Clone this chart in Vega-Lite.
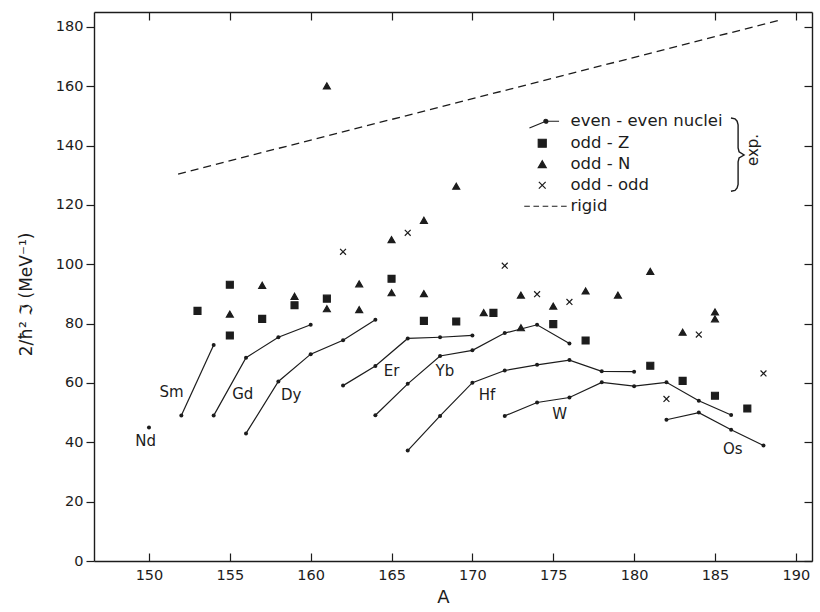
{
  "$schema": "https://vega.github.io/schema/vega-lite/v6.json",
  "width": 718,
  "height": 549,
  "autosize": {"type": "none"},
  "padding": {"left": 94, "top": 12, "right": 8, "bottom": 51},
  "background": "white",
  "config": {
    "view": {"stroke": null},
    "font": "DejaVu Sans",
    "axis": {"grid": false, "domainColor": "#1c1c1c", "tickColor": "#1c1c1c", "labelColor": "#1c1c1c", "titleColor": "#1c1c1c", "domainWidth": 1.4, "tickWidth": 1.2, "labelFont": "DejaVu Sans", "titleFont": "DejaVu Sans", "titleFontWeight": "normal"}
  },
  "datasets": {
    "ee": [
      {"el": "Nd", "A": 150, "J": 45},
      {"el": "Sm", "A": 152, "J": 49}, {"el": "Sm", "A": 154, "J": 72.8},
      {"el": "Gd", "A": 154, "J": 49}, {"el": "Gd", "A": 156, "J": 68.5}, {"el": "Gd", "A": 158, "J": 75.4}, {"el": "Gd", "A": 160, "J": 79.6},
      {"el": "Dy", "A": 156, "J": 43}, {"el": "Dy", "A": 158, "J": 60.5}, {"el": "Dy", "A": 160, "J": 69.7}, {"el": "Dy", "A": 162, "J": 74.4}, {"el": "Dy", "A": 164, "J": 81.3},
      {"el": "Er", "A": 162, "J": 59.1}, {"el": "Er", "A": 164, "J": 65.7}, {"el": "Er", "A": 166, "J": 75}, {"el": "Er", "A": 168, "J": 75.4}, {"el": "Er", "A": 170, "J": 76},
      {"el": "Yb", "A": 164, "J": 49.1}, {"el": "Yb", "A": 166, "J": 59.7}, {"el": "Yb", "A": 168, "J": 69.1}, {"el": "Yb", "A": 170, "J": 71}, {"el": "Yb", "A": 172, "J": 76.8}, {"el": "Yb", "A": 174, "J": 79.6}, {"el": "Yb", "A": 176, "J": 73.3},
      {"el": "Hf", "A": 166, "J": 37.2}, {"el": "Hf", "A": 168, "J": 48.9}, {"el": "Hf", "A": 170, "J": 60.1}, {"el": "Hf", "A": 172, "J": 64.2}, {"el": "Hf", "A": 174, "J": 66.1}, {"el": "Hf", "A": 176, "J": 67.7}, {"el": "Hf", "A": 178, "J": 63.9}, {"el": "Hf", "A": 180, "J": 63.8},
      {"el": "W", "A": 172, "J": 48.9}, {"el": "W", "A": 174, "J": 53.4}, {"el": "W", "A": 176, "J": 55.1}, {"el": "W", "A": 178, "J": 60.2}, {"el": "W", "A": 180, "J": 58.9}, {"el": "W", "A": 182, "J": 60.2}, {"el": "W", "A": 184, "J": 54}, {"el": "W", "A": 186, "J": 49.2},
      {"el": "Os", "A": 182, "J": 47.6}, {"el": "Os", "A": 184, "J": 50}, {"el": "Os", "A": 186, "J": 44.2}, {"el": "Os", "A": 188, "J": 38.9}
    ],
    "odd": [
      {"kind": "odd - Z", "A": 153, "J": 84.3}, {"kind": "odd - Z", "A": 155, "J": 93.1}, {"kind": "odd - Z", "A": 155, "J": 76}, {"kind": "odd - Z", "A": 157, "J": 81.6}, {"kind": "odd - Z", "A": 159, "J": 86.2}, {"kind": "odd - Z", "A": 161, "J": 88.4}, {"kind": "odd - Z", "A": 165, "J": 95.1}, {"kind": "odd - Z", "A": 167, "J": 80.9}, {"kind": "odd - Z", "A": 169, "J": 80.7}, {"kind": "odd - Z", "A": 171.3, "J": 83.6}, {"kind": "odd - Z", "A": 175, "J": 79.8}, {"kind": "odd - Z", "A": 177, "J": 74.3}, {"kind": "odd - Z", "A": 181, "J": 65.8}, {"kind": "odd - Z", "A": 183, "J": 60.7}, {"kind": "odd - Z", "A": 185, "J": 55.7}, {"kind": "odd - Z", "A": 187, "J": 51.4},
      {"kind": "odd - N", "A": 155, "J": 83.2}, {"kind": "odd - N", "A": 157, "J": 92.9}, {"kind": "odd - N", "A": 159, "J": 89.2}, {"kind": "odd - N", "A": 161, "J": 85}, {"kind": "odd - N", "A": 161, "J": 160.1}, {"kind": "odd - N", "A": 163, "J": 93.4}, {"kind": "odd - N", "A": 163, "J": 84.7}, {"kind": "odd - N", "A": 165, "J": 90.4}, {"kind": "odd - N", "A": 165, "J": 108.3}, {"kind": "odd - N", "A": 167, "J": 114.8}, {"kind": "odd - N", "A": 167, "J": 90.1}, {"kind": "odd - N", "A": 169, "J": 126.3}, {"kind": "odd - N", "A": 170.7, "J": 83.7}, {"kind": "odd - N", "A": 173, "J": 89.6}, {"kind": "odd - N", "A": 173, "J": 78.6}, {"kind": "odd - N", "A": 175, "J": 85.9}, {"kind": "odd - N", "A": 177, "J": 91}, {"kind": "odd - N", "A": 179, "J": 89.6}, {"kind": "odd - N", "A": 181, "J": 97.6}, {"kind": "odd - N", "A": 183, "J": 77.1}, {"kind": "odd - N", "A": 185, "J": 83.9}, {"kind": "odd - N", "A": 185, "J": 81.6},
      {"kind": "odd - odd", "A": 162, "J": 104.2}, {"kind": "odd - odd", "A": 166, "J": 110.6}, {"kind": "odd - odd", "A": 172, "J": 99.5}, {"kind": "odd - odd", "A": 174, "J": 89.9}, {"kind": "odd - odd", "A": 176, "J": 87.3}, {"kind": "odd - odd", "A": 182, "J": 54.6}, {"kind": "odd - odd", "A": 184, "J": 76.3}, {"kind": "odd - odd", "A": 188, "J": 63.2}
    ],
    "rigid": [
      {"A": 151.8, "J": 130.4}, {"A": 189.1, "J": 182.4}
    ],
    "labels": [
      {"el": "Nd", "A": 149.8, "J": 40.6}, {"el": "Sm", "A": 151.4, "J": 57}, {"el": "Gd", "A": 155.8, "J": 56.4}, {"el": "Dy", "A": 158.8, "J": 56}, {"el": "Er", "A": 165, "J": 64.1}, {"el": "Yb", "A": 168.3, "J": 63.9}, {"el": "Hf", "A": 170.9, "J": 55.8}, {"el": "W", "A": 175.4, "J": 49.5}, {"el": "Os", "A": 186.1, "J": 37.7}
    ],
    "brace": [
      {"i": 1, "A": 185.99, "J": 149.3}, {"i": 2, "A": 186.24, "J": 149.0}, {"i": 3, "A": 186.37, "J": 148.2}, {"i": 4, "A": 186.43, "J": 147.0},
      {"i": 5, "A": 186.43, "J": 139.2}, {"i": 6, "A": 186.49, "J": 137.9}, {"i": 7, "A": 186.8, "J": 136.8}, {"i": 8, "A": 186.49, "J": 135.8},
      {"i": 9, "A": 186.43, "J": 134.5}, {"i": 10, "A": 186.43, "J": 126.9}, {"i": 11, "A": 186.37, "J": 125.7}, {"i": 12, "A": 186.24, "J": 124.9}, {"i": 13, "A": 185.99, "J": 124.6}
    ]
  },
  "resolve": {"axis": {"x": "independent", "y": "independent"}},
  "layer": [
    {
      "data": {"name": "rigid"},
      "mark": {"type": "line", "color": "#1c1c1c", "strokeWidth": 1.3, "strokeDash": [8, 5]},
      "encoding": {
        "x": {"field": "A", "type": "quantitative", "scale": {"domain": [146.6, 191], "nice": false, "zero": false},
          "axis": {"orient": "bottom", "values": [150, 155, 160, 165, 170, 175, 180, 185, 190], "tickSize": -8, "labelPadding": 15, "labelFontSize": 14.5, "title": "A", "titleFontSize": 18, "titleX": 349, "titleY": 36, "titleBaseline": "middle", "titleAlign": "center"}},
        "y": {"field": "J", "type": "quantitative", "scale": {"domain": [0, 185], "nice": false, "zero": false},
          "axis": {"orient": "left", "values": [0, 20, 40, 60, 80, 100, 120, 140, 160, 180], "tickSize": 8, "labelPadding": 3, "labelFontSize": 14.5, "title": "2/ħ² ℑ (MeV⁻¹)", "titleFontSize": 17, "titleX": -68, "titleY": 282, "titleAngle": 270, "titleAlign": "center", "titleBaseline": "middle"}}
      }
    },
    {
      "data": {"name": "ee"},
      "mark": {"type": "line", "color": "#1c1c1c", "strokeWidth": 1.2},
      "encoding": {
        "x": {"field": "A", "type": "quantitative", "scale": {"domain": [146.6, 191], "nice": false, "zero": false},
          "axis": {"orient": "top", "values": [150, 155, 160, 165, 170, 175, 180, 185, 190], "tickSize": -8, "labels": false, "title": null}},
        "y": {"field": "J", "type": "quantitative", "scale": {"domain": [0, 185], "nice": false, "zero": false},
          "axis": {"orient": "right", "values": [0, 20, 40, 60, 80, 100, 120, 140, 160, 180], "tickSize": -8, "labels": false, "title": null}},
        "detail": {"field": "el"}
      }
    },
    {
      "data": {"name": "ee"},
      "mark": {"type": "point", "shape": "circle", "filled": true, "color": "#1c1c1c", "size": 16, "opacity": 1},
      "encoding": {
        "x": {"field": "A", "type": "quantitative", "scale": {"domain": [146.6, 191], "nice": false, "zero": false}, "axis": null},
        "y": {"field": "J", "type": "quantitative", "scale": {"domain": [0, 185], "nice": false, "zero": false}, "axis": null}
      }
    },
    {
      "data": {"name": "odd"},
      "mark": {"type": "point", "filled": true, "strokeWidth": 1.2, "size": 48, "opacity": 1},
      "encoding": {
        "x": {"field": "A", "type": "quantitative", "scale": {"domain": [146.6, 191], "nice": false, "zero": false}, "axis": null},
        "y": {"field": "J", "type": "quantitative", "scale": {"domain": [0, 185], "nice": false, "zero": false}, "axis": null},
        "shape": {"field": "kind", "type": "nominal",
          "scale": {"domain": ["even - even nuclei", "odd - Z", "odd - N", "odd - odd", "rigid"],
            "range": ["M-3.2,1.7L0.9,0M0.9,0L4.2,0M0.4,0A0.5,0.5 0 1 0 1.4,0A0.5,0.5 0 1 0 0.4,0", "square", "triangle-up", "M-0.85,-0.85L0.85,0.85M-0.85,0.85L0.85,-0.85", "M-4.5,0L-3.1,0M-2.2,0L-0.8,0M0.1,0L1.5,0M2.4,0L3.8,0M4.7,0L6.1,0"]},
          "legend": {"orient": "none", "legendX": 440, "legendY": 101, "title": null, "padding": 0, "labelFont": "DejaVu Sans", "labelFontSize": 16.5, "labelColor": "#1c1c1c", "labelOffset": 20, "symbolSize": 64, "symbolStrokeWidth": 1.2, "symbolOpacity": 1, "rowPadding": 4}},
        "stroke": {"field": "kind", "type": "nominal",
          "scale": {"domain": ["even - even nuclei", "odd - Z", "odd - N", "odd - odd", "rigid"], "range": ["#1c1c1c", "#1c1c1c", "#1c1c1c", "#1c1c1c", "#1c1c1c"]},
          "legend": {"orient": "none", "legendX": 440, "legendY": 101, "title": null, "padding": 0, "labelFont": "DejaVu Sans", "labelFontSize": 16.5, "labelColor": "#1c1c1c", "labelOffset": 20, "symbolSize": 64, "symbolStrokeWidth": 1.2, "symbolOpacity": 1, "rowPadding": 4}},
        "fill": {"field": "kind", "type": "nominal",
          "scale": {"domain": ["even - even nuclei", "odd - Z", "odd - N", "odd - odd", "rigid"], "range": ["#1c1c1c", "#1c1c1c", "#1c1c1c", "#1c1c1c", "#1c1c1c"]},
          "legend": {"orient": "none", "legendX": 440, "legendY": 101, "title": null, "padding": 0, "labelFont": "DejaVu Sans", "labelFontSize": 16.5, "labelColor": "#1c1c1c", "labelOffset": 20, "symbolSize": 64, "symbolStrokeWidth": 1.2, "symbolOpacity": 1, "rowPadding": 4}}
      }
    },
    {
      "data": {"name": "labels"},
      "mark": {"type": "text", "font": "DejaVu Sans", "fontSize": 15, "color": "#1c1c1c", "align": "center", "baseline": "middle"},
      "encoding": {
        "x": {"field": "A", "type": "quantitative", "scale": {"domain": [146.6, 191], "nice": false, "zero": false}, "axis": null},
        "y": {"field": "J", "type": "quantitative", "scale": {"domain": [0, 185], "nice": false, "zero": false}, "axis": null},
        "text": {"field": "el"}
      }
    },
    {
      "data": {"name": "brace"},
      "mark": {"type": "line", "color": "#1c1c1c", "strokeWidth": 1.4, "interpolate": "linear"},
      "encoding": {
        "x": {"field": "A", "type": "quantitative", "scale": {"domain": [146.6, 191], "nice": false, "zero": false}, "axis": null},
        "y": {"field": "J", "type": "quantitative", "scale": {"domain": [0, 185], "nice": false, "zero": false}, "axis": null},
        "order": {"field": "i"}
      }
    },
    {
      "data": {"values": [{"t": "exp.", "A": 187.35, "J": 138.5}]},
      "mark": {"type": "text", "font": "DejaVu Sans", "fontSize": 15, "angle": 270, "color": "#1c1c1c", "align": "center", "baseline": "middle"},
      "encoding": {
        "x": {"field": "A", "type": "quantitative", "scale": {"domain": [146.6, 191], "nice": false, "zero": false}, "axis": null},
        "y": {"field": "J", "type": "quantitative", "scale": {"domain": [0, 185], "nice": false, "zero": false}, "axis": null},
        "text": {"field": "t"}
      }
    }
  ]
}
